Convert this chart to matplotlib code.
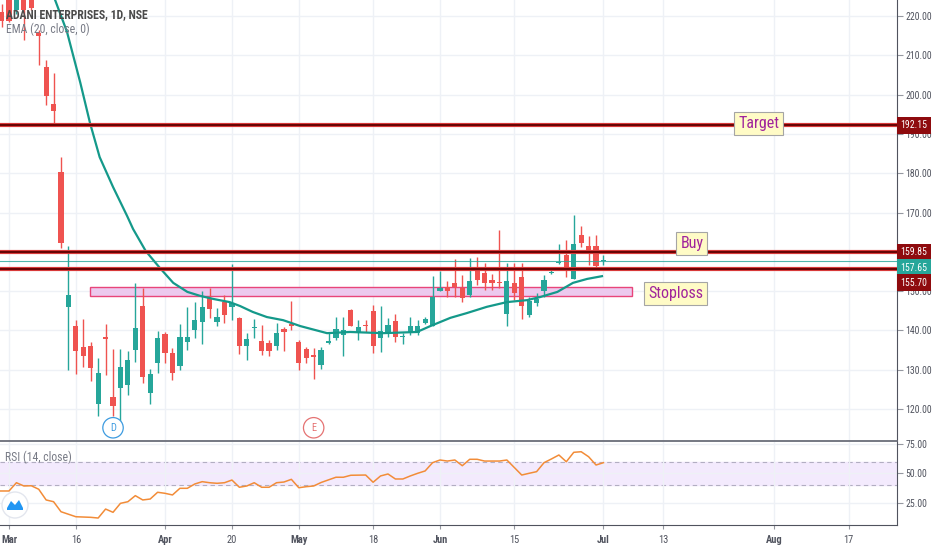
import matplotlib.pyplot as plt
import matplotlib.patches as mpatches
from matplotlib.transforms import blended_transform_factory

plt.rcParams['font.family'] = ['Roboto Condensed', 'DejaVu Sans']

# daily candles, index 0 = 2 Mar 2020 (NSE trading days), -1 = 28 Feb
idx = list(range(-1, 81))
opens = [221.0, 226.0, 221.5, 226.0, 226.0, 215.7, 207.0, 197.6, 180.3, 146.0,
         141.1, 135.8, 136.0, 121.3, 138.3, 123.1, 125.3, 126.1, 135.0, 146.2,
         124.1, 131.7, 139.1, 134.2, 130.9, 137.0, 140.1, 142.1, 148.3, 142.1,
         147.3, 146.0, 143.2, 136.0, 140.5, 137.3, 136.8, 136.0, 140.3, 141.6,
         137.0, 135.2, 133.7, 131.2, 136.9, 138.0, 138.8, 145.2, 139.7, 141.5,
         145.0, 138.0, 139.7, 142.5, 138.2, 139.7, 139.4, 142.0, 141.1, 150.1,
         151.1, 152.0, 150.7, 149.0, 156.0, 154.5, 152.8, 152.1, 144.1, 152.0,
         153.7, 144.0, 146.9, 149.9, 154.5, 157.1, 159.2, 153.2, 164.3, 161.5,
         161.5, 157.6]
highs = [223.0, 227.0, 228.0, 228.0, 228.0, 216.4, 208.8, 205.5, 184.1, 161.5,
         142.6, 142.9, 137.0, 133.0, 141.6, 135.3, 135.3, 134.8, 152.1, 150.8,
         130.2, 139.8, 139.5, 135.6, 141.6, 146.0, 147.3, 150.0, 150.8, 145.7,
         149.0, 157.0, 143.5, 139.4, 143.0, 141.4, 137.5, 141.9, 140.8, 147.5,
         137.5, 135.9, 135.4, 135.9, 139.3, 143.5, 143.3, 145.4, 142.7, 142.7,
         146.5, 146.2, 143.1, 144.1, 139.3, 143.5, 142.7, 143.5, 153.8, 155.2,
         152.6, 158.1, 154.1, 158.3, 158.6, 157.1, 154.4, 165.5, 157.1, 157.1,
         157.1, 148.6, 149.4, 154.1, 156.2, 162.0, 163.0, 169.4, 166.6, 163.9,
         164.3, 159.2]
lows = [217.2, 218.5, 220.5, 213.9, 221.5, 207.5, 197.4, 192.5, 161.0, 130.0,
        128.9, 130.7, 127.1, 118.2, 128.7, 118.2, 115.4, 123.6, 132.0, 126.6,
        121.3, 129.2, 131.6, 127.3, 130.0, 135.0, 138.0, 136.6, 143.2, 141.0,
        141.8, 142.6, 134.0, 132.5, 138.0, 133.7, 133.5, 135.0, 134.8, 140.0,
        130.0, 131.8, 127.6, 130.3, 136.5, 137.6, 133.5, 141.0, 137.6, 139.7,
        134.3, 134.6, 138.4, 137.1, 136.5, 138.8, 138.8, 141.6, 141.0, 149.9,
        148.4, 148.6, 147.3, 148.4, 151.5, 150.3, 150.3, 150.7, 141.0, 147.7,
        142.8, 143.5, 146.2, 148.6, 154.3, 156.9, 153.7, 153.0, 161.3, 156.6,
        156.2, 156.6]
closes = [218.7, 218.7, 226.0, 221.5, 222.0, 214.9, 199.6, 195.8, 162.2, 149.0,
          134.8, 133.5, 130.4, 129.2, 137.8, 120.8, 130.7, 132.5, 140.6, 128.1,
          128.9, 138.1, 134.2, 129.2, 138.3, 138.3, 142.6, 146.0, 145.4, 143.4,
          143.9, 147.0, 136.0, 137.8, 140.8, 134.8, 134.8, 139.3, 139.6, 141.0,
          131.7, 132.9, 133.3, 135.0, 137.3, 140.3, 140.1, 141.1, 140.8, 141.1,
          136.0, 139.9, 141.5, 138.4, 138.4, 141.0, 141.1, 142.8, 148.6, 150.7,
          150.1, 151.1, 148.2, 152.6, 152.8, 152.1, 152.0, 152.0, 152.6, 149.4,
          146.2, 147.5, 148.0, 152.8, 154.9, 157.5, 155.0, 161.9, 162.3, 159.9,
          156.4, 157.65]

# EMA(20)
ema_idx = [6.2, 7.8, 9.6, 10.9, 12.2, 14.0, 15.9, 16.7, 18.4, 20.3, 22.1, 24.0,
           25.7, 27.5, 29.7, 31.1, 32.8, 34.7, 36.9, 39.2, 42.8, 45.9, 50.3,
           54.9, 56.7, 59.4, 61.6, 64.3, 67.0, 69.7, 71.5, 73.8, 75.9, 77.8, 79.8]
ema_val = [224.1, 216.0, 203.0, 192.8, 184.1, 176.5, 169.1, 165.8, 160.2, 155.9,
           152.1, 149.8, 148.8, 148.0, 147.2, 146.2, 144.7, 143.4, 142.6, 141.1,
           139.3, 139.6, 139.3, 139.6, 141.1, 143.2, 144.4, 146.0, 147.2, 147.7,
           148.5, 149.8, 152.1, 153.1, 153.8]

# RSI(14)
rsi_idx = [-1.2, 0, 1, 2, 3, 4, 5, 6, 7, 9, 11, 12,
           13, 14, 15, 16, 17, 18, 19, 20, 21, 22, 23, 24, 25, 26, 27, 28, 29, 30,
           31, 32, 33, 34, 35, 36, 37, 38, 39, 40, 41, 42, 44, 45, 46,
           48, 49, 50, 51, 52, 53, 54, 55, 56, 57, 58, 59, 60, 61, 62, 63, 64, 65, 66, 67,
           69, 70, 71, 72, 73, 74, 75, 76, 77, 78, 79, 80]
rsi_val = [34.9, 34.9, 42.0, 39.2, 39.4, 36.4, 27.2, 25.7, 17.1, 12.8, 12.3, 11.7,
           19.4, 16.6, 24.3, 25.7, 30.9, 27.2, 28.0, 33.8, 32.9, 31.5, 37.2, 37.2,
           40.9, 42.9, 42.0, 41.5, 42.0, 44.3, 38.1, 39.2, 42.0, 38.1, 38.1, 42.0,
           42.6, 44.9, 37.7, 38.6, 39.2, 42.2, 46.7, 46.7, 48.4,
           48.6, 42.4, 47.8, 49.5, 45.2, 45.2, 47.8, 50.1, 52.1, 59.2, 61.5, 60.6,
           61.5, 56.6, 62.1, 62.1, 60.6, 60.6, 60.6, 61.5,
           48.6, 50.1, 51.5, 59.2, 62.4, 65.8, 60.0, 68.1, 68.6, 64.3, 57.2, 59.2]

target, buy, stop, last = 192.15, 159.85, 155.70, 157.65
zone_lo, zone_hi = 148.8, 151.1
zone_start, zone_end = 10.9, 83.8

price_ticks = list(range(120, 230, 10))
tick_idx = [0, 9, 21, 30, 39, 49, 58, 68, 80, 88, 103, 113]
tick_lbl = ['Mar', '16', 'Apr', '20', 'May', '18', 'Jun', '15', 'Jul', '13', 'Aug', '17']
months = {'Mar', 'Apr', 'May', 'Jun', 'Jul', 'Aug'}

UP, DOWN = '#26a69a', '#ef5350'
GRID = '#eef1f6'
AXC = '#50535e'

W, H = 932, 550
fig = plt.figure(figsize=(W / 100, H / 100), dpi=100)
ax = fig.add_axes([0, 109 / H, 897 / W, 441 / H])
rs = fig.add_axes([0, 25 / H, 897 / W, 83 / H])

xlim = (-1.21, 119.5)

# --- price pane ---
ax.set_xlim(*xlim)
ax.set_ylim(111.86, 224.07)
ax.set_xticks(tick_idx)
ax.set_yticks(price_ticks)
# 160 sits fully under the 159.85 badge
ax.set_yticklabels(['' if v == 160 else f'{v:.2f}' for v in price_ticks])
ax.yaxis.tick_right()
ax.tick_params(axis='x', length=0, labelbottom=False)
ax.tick_params(axis='y', length=4, color='#9598a1', labelsize=7,
               labelcolor=AXC, pad=2)
ax.grid(True, color=GRID, lw=1, zorder=0)
for s in ['left', 'top']:
    ax.spines[s].set_visible(False)
ax.spines['right'].set_color(AXC)
ax.spines['bottom'].set_color('#6a6d78')
ax.spines['bottom'].set_linewidth(1.3)

colors = [UP if c >= o else DOWN for o, c in zip(opens, closes)]
ax.vlines(idx, lows, highs, colors=colors, lw=1, zorder=3)
bottoms = [min(o, c) for o, c in zip(opens, closes)]
heights = [max(abs(c - o), 0.3) for o, c in zip(opens, closes)]
ax.bar(idx, heights, 0.7, bottoms, color=colors, zorder=4)

ax.plot(ema_idx, ema_val, color='#14998a', lw=1.6, zorder=5)

# stoploss zone
ax.add_patch(mpatches.Rectangle((zone_start, zone_lo), zone_end - zone_start,
                                zone_hi - zone_lo, fc='#ecc9ee', ec='#e8457a',
                                lw=1, zorder=2))

# horizontal levels
for lvl in (target, buy, stop):
    ax.axhline(lvl, color='#d83a3a', lw=3.0, zorder=6)
    ax.axhline(lvl, color='#5c0000', lw=1.3, zorder=6)
ax.axhline(last, color=UP, lw=0.8, alpha=0.8, zorder=5)

note = dict(ha='center', va='center', fontsize=11.5, color='#a0249c', zorder=8,
            bbox=dict(boxstyle='square,pad=0.25', fc='#fffbc6', ec='#a5a5a5', lw=0.8))
ax.text(100.9, 192.7, 'Target', **note)
ax.text(91.9, 162.2, 'Buy', **note)
ax.text(89.7, 149.3, 'Stoploss', **note)


def badge(y, text, color, dy=0):
    ax.annotate(text, xy=(1, y), xycoords=('axes fraction', 'data'),
                xytext=(2.5, dy), textcoords='offset points', ha='left', va='center',
                color='white', fontsize=7, annotation_clip=False, zorder=10,
                bbox=dict(boxstyle='square,pad=0.35', fc=color, ec='none'))


badge(target, f'{target:.2f}', '#8e0b0e')
badge(buy, f'{buy:.2f}', '#8e0b0e')
badge(last, f'{last:.2f}', UP, dy=-4.7)
badge(stop, f'{stop:.2f}', '#8e0b0e', dy=-10)

# dividend / earnings markers
bt = blended_transform_factory(ax.transData, ax.transAxes)
ax.text(14, 0.03, 'D', transform=bt, ha='center', va='center', fontsize=7.5,
        color='#3d9be0', zorder=7,
        bbox=dict(boxstyle='circle,pad=0.5', fc='white', ec='#3d9be0', lw=0.9))
ax.text(41, 0.03, 'E', transform=bt, ha='center', va='center', fontsize=7.5,
        color='#e57373', zorder=7,
        bbox=dict(boxstyle='circle,pad=0.5', fc='white', ec='#e57373', lw=0.9))

fig.text(6 / W, 1 - 15 / H, 'ADANI ENTERPRISES, 1D, NSE', va='center',
         fontsize=8.5, weight='bold', color='#4a4a4a')
fig.text(6 / W, 1 - 29 / H, 'EMA (20, close, 0)', va='center', fontsize=8.5,
         color='#787b86')

# --- RSI pane ---
rs.set_xlim(*xlim)
rs.set_ylim(5.71, 76.95)
rs.axhspan(40, 60, color='#f3eafd', zorder=0)
rs.axhline(60, color='#b2aec2', lw=0.8, ls=(0, (4, 3)), zorder=1)
rs.axhline(40, color='#b2aec2', lw=0.8, ls=(0, (4, 3)), zorder=1)
rs.plot(rsi_idx, rsi_val, color='#f28c38', lw=1.1, zorder=3)
rs.set_yticks([25, 50, 75])
rs.set_yticklabels(['25.00', '50.00', '75.00'])
rs.yaxis.tick_right()
rs.set_xticks(tick_idx)
rs.set_xticklabels(tick_lbl)
rs.tick_params(axis='y', length=4, color='#9598a1', labelsize=7,
               labelcolor=AXC, pad=2)
rs.tick_params(axis='x', length=3, color='#9598a1', labelsize=7.5,
               labelcolor=AXC, pad=4)
for t in rs.get_xticklabels():
    if t.get_text() in months:
        t.set_fontweight('bold')
rs.grid(True, color=GRID, lw=1, zorder=0)
for s in ['left', 'top']:
    rs.spines[s].set_visible(False)
rs.spines['right'].set_color(AXC)
rs.spines['bottom'].set_color(AXC)
fig.text(5 / W, 1 - 457 / H, 'RSI (14, close)', va='center', fontsize=8.5,
         color='#787b86')

# TradingView badge, bottom left
fig.add_artist(mpatches.Ellipse((15 / W, 1 - 505 / H), 26 / W, 26 / H,
                                fc='white', ec='#e3e6ee', lw=1, zorder=20))
pts = [(-8, -3), (-4, 4), (0, 0), (4, 5), (8, -3), (8, -5), (-8, -5)]
fig.add_artist(mpatches.Polygon([((15 + px) / W, 1 - (505 - py) / H) for px, py in pts],
                                closed=True, fc='#2196f3', ec='none', zorder=21))

fig.savefig('out.png', dpi=100)
